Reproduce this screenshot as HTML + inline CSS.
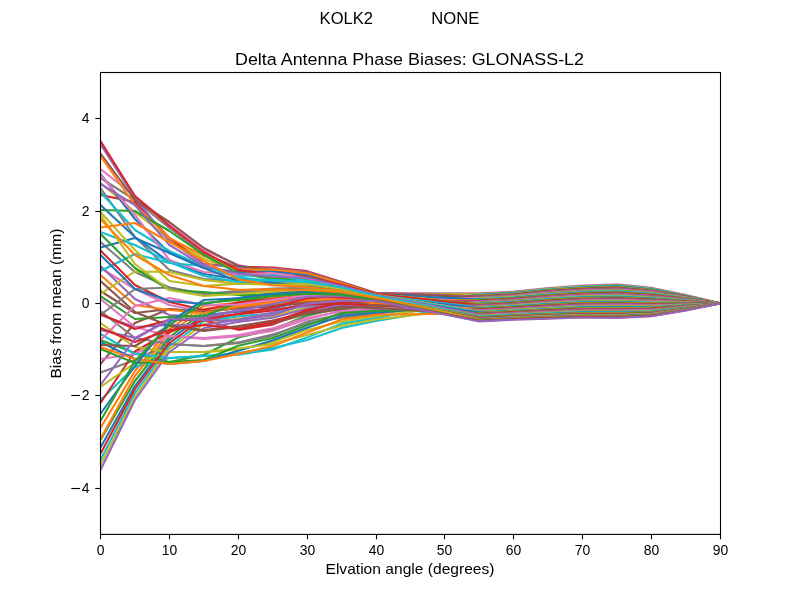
<!DOCTYPE html>
<html><head><meta charset="utf-8"><style>
html,body{margin:0;padding:0;background:#fff;width:800px;height:600px;overflow:hidden}
svg{display:block;will-change:transform}
text{font-family:"Liberation Sans",sans-serif;fill:#000}
</style></head><body>
<svg width="800" height="600" viewBox="0 0 800 600">
<rect width="800" height="600" fill="#fff"/>
<text x="319.6" y="24.3" font-size="16.67" textLength="53.5" lengthAdjust="spacingAndGlyphs">KOLK2</text>
<text x="431.3" y="24.3" font-size="16.67" textLength="48" lengthAdjust="spacingAndGlyphs">NONE</text>
<text x="235" y="64.5" font-size="16.67" textLength="349" lengthAdjust="spacingAndGlyphs">Delta Antenna Phase Biases: GLONASS-L2</text>
<g fill="none" stroke-width="2.08" stroke-linejoin="round" stroke-linecap="butt">
<clipPath id="c"><rect x="100" y="72" width="620" height="462"/></clipPath>
<g clip-path="url(#c)">
<polyline points="100.50,169.00 134.94,196.00 169.39,224.00 203.83,250.00 238.28,265.00 272.72,272.22 307.17,274.17 341.61,283.56 376.06,293.19 410.50,293.26 444.94,293.33 479.39,293.40 513.83,291.60 548.28,288.00 582.72,285.50 617.17,284.30 651.61,287.80 686.06,295.00 720.50,303.45" stroke="#e377c2"/>
<polyline points="100.50,178.00 134.94,200.00 169.39,228.00 203.83,254.00 238.28,267.57 272.72,275.59 307.17,276.14 341.61,284.35 376.06,293.75 410.50,293.78 444.94,293.81 479.39,293.84 513.83,292.04 548.28,288.48 582.72,286.00 617.17,284.83 651.61,288.24 686.06,295.24 720.50,303.45" stroke="#7f7f7f"/>
<polyline points="100.50,183.00 134.94,212.00 169.39,239.00 203.83,259.00 238.28,270.99 272.72,277.61 307.17,279.05 341.61,285.51 376.06,294.69 410.50,294.55 444.94,294.41 479.39,294.28 513.83,292.48 548.28,288.96 582.72,286.50 617.17,285.35 651.61,288.69 686.06,295.48 720.50,303.45" stroke="#bcbd22"/>
<polyline points="100.50,460.00 134.94,393.00 169.39,346.00 203.83,321.00 238.28,316.38 272.72,313.47 307.17,305.07 341.61,304.37 376.06,306.44 410.50,302.53 444.94,298.62 479.39,294.71 513.83,292.92 548.28,289.45 582.72,287.00 617.17,285.88 651.61,289.14 686.06,295.72 720.50,303.45" stroke="#17becf"/>
<polyline points="100.50,447.50 134.94,386.00 169.39,340.00 203.83,315.00 238.28,311.65 272.72,308.17 307.17,300.93 341.61,301.25 376.06,304.06 410.50,301.09 444.94,298.12 479.39,295.15 513.83,293.36 548.28,289.93 582.72,287.50 617.17,286.41 651.61,289.58 686.06,295.96 720.50,303.45" stroke="#1f77b4"/>
<polyline points="100.50,428.00 134.94,371.00 169.39,329.00 203.83,306.00 238.28,302.81 272.72,298.00 307.17,294.66 341.61,296.47 376.06,301.56 410.50,299.57 444.94,297.58 479.39,295.59 513.83,293.80 548.28,290.41 582.72,288.00 617.17,286.93 651.61,290.03 686.06,296.20 720.50,303.45" stroke="#ff7f0e"/>
<polyline points="100.50,440.00 134.94,381.00 169.39,337.00 203.83,312.00 238.28,308.24 272.72,304.69 307.17,298.84 341.61,297.87 376.06,303.13 410.50,300.76 444.94,298.39 479.39,296.03 513.83,294.24 548.28,290.89 582.72,288.50 617.17,287.46 651.61,290.47 686.06,296.44 720.50,303.45" stroke="#2ca02c"/>
<polyline points="100.50,195.00 134.94,202.00 169.39,238.00 203.83,264.00 238.28,266.71 272.72,267.50 307.17,271.15 341.61,282.00 376.06,293.00 410.50,294.15 444.94,295.31 479.39,296.46 513.83,294.67 548.28,291.37 582.72,289.00 617.17,287.99 651.61,290.92 686.06,296.68 720.50,303.45" stroke="#d62728"/>
<polyline points="100.50,144.00 134.94,198.00 169.39,241.00 203.83,264.00 238.28,267.73 272.72,268.44 307.17,271.98 341.61,282.39 376.06,293.38 410.50,294.55 444.94,295.73 479.39,296.90 513.83,295.11 548.28,291.85 582.72,289.50 617.17,288.51 651.61,291.36 686.06,296.92 720.50,303.45" stroke="#9467bd"/>
<polyline points="100.50,153.50 134.94,200.00 169.39,222.00 203.83,248.00 238.28,265.86 272.72,270.33 307.17,272.81 341.61,282.78 376.06,293.56 410.50,294.82 444.94,296.08 479.39,297.34 513.83,295.55 548.28,292.33 582.72,290.00 617.17,289.04 651.61,291.81 686.06,297.16 720.50,303.45" stroke="#8c564b"/>
<polyline points="100.50,268.00 134.94,289.00 169.39,305.00 203.83,312.00 238.28,305.11 272.72,302.68 307.17,299.74 341.61,298.35 376.06,301.87 410.50,300.51 444.94,299.14 479.39,297.77 513.83,295.99 548.28,292.81 582.72,290.50 617.17,289.57 651.61,292.25 686.06,297.41 720.50,303.45" stroke="#e377c2"/>
<polyline points="100.50,372.50 134.94,360.00 169.39,344.00 203.83,346.00 238.28,343.20 272.72,335.82 307.17,321.59 341.61,314.25 376.06,311.71 410.50,307.21 444.94,302.71 479.39,298.21 513.83,296.43 548.28,293.29 582.72,291.00 617.17,290.09 651.61,292.70 686.06,297.65 720.50,303.45" stroke="#7f7f7f"/>
<polyline points="100.50,465.00 134.94,397.00 169.39,349.00 203.83,324.00 238.28,318.44 272.72,315.96 307.17,307.44 341.61,305.00 376.06,307.16 410.50,304.33 444.94,301.49 479.39,298.65 513.83,296.87 548.28,293.77 582.72,291.50 617.17,290.62 651.61,293.15 686.06,297.89 720.50,303.45" stroke="#bcbd22"/>
<polyline points="100.50,400.00 134.94,367.00 169.39,358.00 203.83,356.00 238.28,354.70 272.72,349.40 307.17,337.36 341.61,323.63 376.06,317.88 410.50,311.61 444.94,305.35 479.39,299.09 513.83,297.31 548.28,294.26 582.72,292.00 617.17,291.14 651.61,293.59 686.06,298.13 720.50,303.45" stroke="#17becf"/>
<polyline points="100.50,174.00 134.94,219.00 169.39,253.00 203.83,268.00 238.28,271.85 272.72,271.27 307.17,275.01 341.61,283.95 376.06,294.31 410.50,296.05 444.94,297.79 479.39,299.52 513.83,297.75 548.28,294.74 582.72,292.50 617.17,291.67 651.61,294.04 686.06,298.37 720.50,303.45" stroke="#1f77b4"/>
<polyline points="100.50,439.00 134.94,376.00 169.39,333.00 203.83,309.00 238.28,305.73 272.72,301.21 307.17,297.34 341.61,296.94 376.06,302.81 410.50,301.86 444.94,300.91 479.39,299.96 513.83,298.18 548.28,295.22 582.72,293.00 617.17,292.20 651.61,294.48 686.06,298.61 720.50,303.45" stroke="#ff7f0e"/>
<polyline points="100.50,340.00 134.94,353.00 169.39,362.00 203.83,355.00 238.28,337.56 272.72,329.56 307.17,315.56 341.61,308.00 376.06,304.69 410.50,303.26 444.94,301.83 479.39,300.40 513.83,298.62 548.28,295.70 582.72,293.50 617.17,292.72 651.61,294.92 686.06,298.85 720.50,303.45" stroke="#2ca02c"/>
<polyline points="100.50,403.00 134.94,351.50 169.39,332.00 203.83,320.00 238.28,329.85 272.72,324.62 307.17,311.21 341.61,303.13 376.06,301.25 410.50,301.11 444.94,300.97 479.39,300.84 513.83,299.06 548.28,296.18 582.72,294.00 617.17,293.25 651.61,295.37 686.06,299.09 720.50,303.45" stroke="#d62728"/>
<polyline points="100.50,315.00 134.94,327.00 169.39,325.00 203.83,325.00 238.28,319.84 272.72,312.43 307.17,302.43 341.61,299.38 376.06,302.19 410.50,301.88 444.94,301.58 479.39,301.27 513.83,299.51 548.28,296.66 582.72,294.50 617.17,293.78 651.61,295.81 686.06,299.33 720.50,303.45" stroke="#9467bd"/>
<polyline points="100.50,364.00 134.94,323.00 169.39,309.00 203.83,312.00 238.28,307.96 272.72,305.76 307.17,303.03 341.61,300.00 376.06,302.50 410.50,302.24 444.94,301.98 479.39,301.71 513.83,299.94 548.28,297.15 582.72,295.00 617.17,294.30 651.61,296.26 686.06,299.57 720.50,303.45" stroke="#8c564b"/>
<polyline points="100.50,359.00 134.94,354.00 169.39,336.00 203.83,339.00 238.28,336.20 272.72,330.85 307.17,319.33 341.61,310.50 376.06,309.33 410.50,306.93 444.94,304.54 479.39,302.15 513.83,300.38 548.28,297.63 582.72,295.50 617.17,294.83 651.61,296.71 686.06,299.81 720.50,303.45" stroke="#e377c2"/>
<polyline points="100.50,311.00 134.94,338.00 169.39,344.00 203.83,346.00 238.28,342.40 272.72,334.54 307.17,323.40 341.61,317.63 376.06,313.79 410.50,310.06 444.94,306.32 479.39,302.59 513.83,300.82 548.28,298.11 582.72,296.00 617.17,295.36 651.61,297.15 686.06,300.06 720.50,303.45" stroke="#7f7f7f"/>
<polyline points="100.50,387.00 134.94,363.00 169.39,352.00 203.83,352.00 238.28,349.67 272.72,342.20 307.17,330.10 341.61,321.44 376.06,316.31 410.50,311.88 444.94,307.45 479.39,303.03 513.83,301.26 548.28,298.59 582.72,296.50 617.17,295.88 651.61,297.60 686.06,300.30 720.50,303.45" stroke="#bcbd22"/>
<polyline points="100.50,334.00 134.94,354.00 169.39,358.00 203.83,356.00 238.28,353.06 272.72,347.90 307.17,339.90 341.61,328.00 376.06,321.00 410.50,315.15 444.94,309.31 479.39,303.46 513.83,301.70 548.28,299.07 582.72,297.00 617.17,296.41 651.61,298.04 686.06,300.54 720.50,303.45" stroke="#17becf"/>
<polyline points="100.50,342.00 134.94,359.00 169.39,364.00 203.83,361.00 238.28,350.84 272.72,340.30 307.17,327.68 341.61,315.75 376.06,312.75 410.50,309.80 444.94,306.85 479.39,303.90 513.83,302.14 548.28,299.55 582.72,297.50 617.17,296.94 651.61,298.49 686.06,300.78 720.50,303.45" stroke="#1f77b4"/>
<polyline points="100.50,156.00 134.94,205.00 169.39,238.00 203.83,256.00 238.28,269.28 272.72,269.59 307.17,273.34 341.61,283.17 376.06,293.94 410.50,297.40 444.94,300.87 479.39,304.34 513.83,302.58 548.28,300.03 582.72,298.00 617.17,297.46 651.61,298.93 686.06,301.02 720.50,303.45" stroke="#ff7f0e"/>
<polyline points="100.50,210.00 134.94,211.00 169.39,231.00 203.83,255.00 238.28,273.41 272.72,278.85 307.17,279.82 341.61,285.13 376.06,294.50 410.50,297.93 444.94,301.35 479.39,304.78 513.83,303.02 548.28,300.51 582.72,298.50 617.17,297.99 651.61,299.38 686.06,301.26 720.50,303.45" stroke="#2ca02c"/>
<polyline points="100.50,141.00 134.94,196.00 169.39,226.00 203.83,252.00 238.28,270.14 272.72,274.11 307.17,276.97 341.61,284.73 376.06,294.12 410.50,297.82 444.94,301.51 479.39,305.21 513.83,303.45 548.28,300.99 582.72,299.00 617.17,298.52 651.61,299.82 686.06,301.50 720.50,303.45" stroke="#d62728"/>
<polyline points="100.50,266.00 134.94,299.00 169.39,315.00 203.83,317.00 238.28,310.26 272.72,309.64 307.17,306.33 341.61,305.63 376.06,304.37 410.50,304.80 444.94,305.22 479.39,305.65 513.83,303.89 548.28,301.47 582.72,299.50 617.17,299.04 651.61,300.27 686.06,301.74 720.50,303.45" stroke="#9467bd"/>
<polyline points="100.50,291.00 134.94,313.00 169.39,309.00 203.83,312.00 238.28,307.69 272.72,306.83 307.17,301.83 341.61,301.87 376.06,303.75 410.50,304.53 444.94,305.31 479.39,306.09 513.83,304.33 548.28,301.96 582.72,300.00 617.17,299.57 651.61,300.72 686.06,301.98 720.50,303.45" stroke="#8c564b"/>
<polyline points="100.50,299.00 134.94,327.00 169.39,336.00 203.83,338.00 238.28,334.99 272.72,328.27 307.17,317.67 341.61,311.75 376.06,310.05 410.50,308.87 444.94,307.70 479.39,306.53 513.83,304.77 548.28,302.44 582.72,300.50 617.17,300.10 651.61,301.16 686.06,302.22 720.50,303.45" stroke="#e377c2"/>
<polyline points="100.50,188.00 134.94,237.00 169.39,270.00 203.83,279.00 238.28,281.00 272.72,282.16 307.17,283.67 341.61,288.03 376.06,296.00 410.50,299.65 444.94,303.31 479.39,306.96 513.83,305.21 548.28,302.92 582.72,301.00 617.17,300.62 651.61,301.60 686.06,302.46 720.50,303.45" stroke="#7f7f7f"/>
<polyline points="100.50,323.00 134.94,347.00 169.39,352.00 203.83,352.00 238.28,348.50 272.72,344.10 307.17,334.97 341.61,325.81 376.06,319.44 410.50,315.43 444.94,311.41 479.39,307.40 513.83,305.65 548.28,303.40 582.72,301.50 617.17,301.15 651.61,302.05 686.06,302.70 720.50,303.45" stroke="#bcbd22"/>
<polyline points="100.50,192.00 134.94,230.00 169.39,251.00 203.83,266.00 238.28,276.05 272.72,274.45 307.17,280.89 341.61,287.09 376.06,295.25 410.50,299.45 444.94,303.64 479.39,307.84 513.83,306.09 548.28,303.88 582.72,302.00 617.17,301.68 651.61,302.49 686.06,302.94 720.50,303.45" stroke="#17becf"/>
<polyline points="100.50,205.00 134.94,237.00 169.39,262.00 203.83,274.00 238.28,279.22 272.72,282.60 307.17,285.36 341.61,289.44 376.06,296.50 410.50,300.42 444.94,304.35 479.39,308.28 513.83,306.53 548.28,304.36 582.72,302.50 617.17,302.20 651.61,302.94 686.06,303.18 720.50,303.45" stroke="#1f77b4"/>
<polyline points="100.50,275.00 134.94,305.00 169.39,310.00 203.83,313.00 238.28,306.71 272.72,303.35 307.17,300.34 341.61,298.81 376.06,303.44 410.50,305.20 444.94,306.96 479.39,308.71 513.83,306.97 548.28,304.84 582.72,303.00 617.17,302.73 651.61,303.39 686.06,303.42 720.50,303.45" stroke="#ff7f0e"/>
<polyline points="100.50,349.00 134.94,363.00 169.39,362.00 203.83,360.00 238.28,345.75 272.72,338.00 307.17,325.25 341.61,313.00 376.06,310.77 410.50,310.23 444.94,309.69 479.39,309.15 513.83,307.41 548.28,305.33 582.72,303.50 617.17,303.26 651.61,303.83 686.06,303.66 720.50,303.45" stroke="#2ca02c"/>
<polyline points="100.50,453.75 134.94,389.00 169.39,343.00 203.83,318.00 238.28,314.34 272.72,310.59 307.17,304.22 341.61,303.75 376.06,305.72 410.50,307.01 444.94,308.30 479.39,309.59 513.83,307.85 548.28,305.81 582.72,304.00 617.17,303.78 651.61,304.28 686.06,303.90 720.50,303.45" stroke="#d62728"/>
<polyline points="100.50,470.00 134.94,400.00 169.39,352.00 203.83,328.00 238.28,321.95 272.72,317.80 307.17,308.84 341.61,306.25 376.06,308.60 410.50,309.08 444.94,309.55 479.39,310.02 513.83,308.29 548.28,306.29 582.72,304.50 617.17,304.31 651.61,304.72 686.06,304.14 720.50,303.45" stroke="#9467bd"/>
<polyline points="100.50,345.00 134.94,346.00 169.39,325.60 203.83,331.00 238.28,327.03 272.72,323.42 307.17,313.87 341.61,309.25 376.06,305.00 410.50,306.82 444.94,308.64 479.39,310.46 513.83,308.72 548.28,306.77 582.72,305.00 617.17,304.84 651.61,305.17 686.06,304.38 720.50,303.45" stroke="#8c564b"/>
<polyline points="100.50,175.00 134.94,215.00 169.39,260.00 203.83,272.00 238.28,274.46 272.72,273.16 307.17,278.33 341.61,286.30 376.06,295.63 410.50,300.72 444.94,305.81 479.39,310.90 513.83,309.16 548.28,307.25 582.72,305.50 617.17,305.36 651.61,305.61 686.06,304.62 720.50,303.45" stroke="#e377c2"/>
<polyline points="100.50,242.00 134.94,272.00 169.39,287.50 203.83,294.00 238.28,292.35 272.72,290.30 307.17,288.52 341.61,290.37 376.06,296.75 410.50,301.61 444.94,306.48 479.39,311.34 513.83,309.60 548.28,307.73 582.72,306.00 617.17,305.89 651.61,306.06 686.06,304.86 720.50,303.45" stroke="#7f7f7f"/>
<polyline points="100.50,294.00 134.94,271.50 169.39,272.00 203.83,280.00 238.28,283.90 272.72,283.87 307.17,282.75 341.61,286.69 376.06,294.88 410.50,300.51 444.94,306.14 479.39,311.77 513.83,310.04 548.28,308.21 582.72,306.50 617.17,306.42 651.61,306.50 686.06,305.11 720.50,303.45" stroke="#bcbd22"/>
<polyline points="100.50,271.00 134.94,254.00 169.39,263.00 203.83,266.00 238.28,277.64 272.72,280.53 307.17,282.13 341.61,288.50 376.06,295.44 410.50,301.03 444.94,306.62 479.39,312.21 513.83,310.48 548.28,308.69 582.72,307.00 617.17,306.94 651.61,306.95 686.06,305.35 720.50,303.45" stroke="#17becf"/>
<polyline points="100.50,247.50 134.94,238.00 169.39,253.00 203.83,268.00 238.28,281.19 272.72,283.04 307.17,285.98 341.61,289.91 376.06,297.00 410.50,302.22 444.94,307.43 479.39,312.65 513.83,310.92 548.28,309.17 582.72,307.50 617.17,307.47 651.61,307.39 686.06,305.59 720.50,303.45" stroke="#1f77b4"/>
<polyline points="100.50,347.00 134.94,359.00 169.39,364.00 203.83,361.00 238.28,353.88 272.72,346.00 307.17,332.43 341.61,319.50 376.06,314.83 410.50,314.25 444.94,313.67 479.39,313.09 513.83,311.36 548.28,309.66 582.72,308.00 617.17,308.00 651.61,307.84 686.06,305.83 720.50,303.45" stroke="#ff7f0e"/>
<polyline points="100.50,296.00 134.94,319.00 169.39,317.00 203.83,316.00 238.28,302.53 272.72,295.60 307.17,291.66 341.61,293.19 376.06,298.25 410.50,303.34 444.94,308.43 479.39,313.52 513.83,311.80 548.28,310.14 582.72,308.50 617.17,308.52 651.61,308.29 686.06,306.07 720.50,303.45" stroke="#2ca02c"/>
<polyline points="100.50,250.50 134.94,285.00 169.39,302.00 203.83,310.00 238.28,302.25 272.72,299.07 307.17,296.15 341.61,297.41 376.06,299.00 410.50,303.99 444.94,308.97 479.39,313.96 513.83,312.24 548.28,310.62 582.72,309.00 617.17,309.05 651.61,308.73 686.06,306.31 720.50,303.45" stroke="#d62728"/>
<polyline points="100.50,184.00 134.94,205.00 169.39,245.00 203.83,266.00 238.28,273.57 272.72,276.78 307.17,277.80 341.61,285.91 376.06,295.06 410.50,301.51 444.94,307.95 479.39,314.40 513.83,312.67 548.28,311.10 582.72,309.50 617.17,309.57 651.61,309.17 686.06,306.55 720.50,303.45" stroke="#9467bd"/>
<polyline points="100.50,281.00 134.94,312.00 169.39,326.00 203.83,330.00 238.28,326.15 272.72,320.60 307.17,312.61 341.61,306.88 376.06,307.88 410.50,310.20 444.94,312.52 479.39,314.84 513.83,313.11 548.28,311.58 582.72,310.00 617.17,310.10 651.61,309.62 686.06,306.79 720.50,303.45" stroke="#8c564b"/>
<polyline points="100.50,340.00 134.94,306.00 169.39,298.00 203.83,305.00 238.28,304.48 272.72,299.74 307.17,295.40 341.61,295.06 376.06,299.75 410.50,304.92 444.94,310.10 479.39,315.27 513.83,313.55 548.28,312.06 582.72,310.50 617.17,310.63 651.61,310.06 686.06,307.03 720.50,303.45" stroke="#e377c2"/>
<polyline points="100.50,315.00 134.94,289.00 169.39,287.50 203.83,294.00 238.28,290.70 272.72,288.50 307.17,287.78 341.61,290.84 376.06,297.25 410.50,303.40 444.94,309.56 479.39,315.71 513.83,313.99 548.28,312.54 582.72,311.00 617.17,311.15 651.61,310.51 686.06,307.27 720.50,303.45" stroke="#7f7f7f"/>
<polyline points="100.50,212.00 134.94,250.00 169.39,281.00 203.83,286.00 238.28,283.66 272.72,284.71 307.17,284.44 341.61,288.97 376.06,296.25 410.50,302.88 444.94,309.51 479.39,316.15 513.83,314.43 548.28,313.03 582.72,311.50 617.17,311.68 651.61,310.96 686.06,307.51 720.50,303.45" stroke="#bcbd22"/>
<polyline points="100.50,232.00 134.94,245.00 169.39,262.00 203.83,276.00 238.28,282.07 272.72,280.09 307.17,281.51 341.61,287.56 376.06,295.81 410.50,302.74 444.94,309.66 479.39,316.59 513.83,314.87 548.28,313.51 582.72,312.00 617.17,312.21 651.61,311.40 686.06,307.75 720.50,303.45" stroke="#17becf"/>
<polyline points="100.50,255.00 134.94,289.00 169.39,301.00 203.83,304.00 238.28,298.00 272.72,292.90 307.17,290.92 341.61,292.72 376.06,298.75 410.50,304.84 444.94,310.93 479.39,317.03 513.83,315.31 548.28,313.99 582.72,312.50 617.17,312.73 651.61,311.85 686.06,308.00 720.50,303.45" stroke="#1f77b4"/>
<polyline points="100.50,227.50 134.94,223.00 169.39,242.00 203.83,261.00 238.28,279.41 272.72,285.20 307.17,287.03 341.61,291.31 376.06,297.50 410.50,304.15 444.94,310.81 479.39,317.46 513.83,315.75 548.28,314.47 582.72,313.00 617.17,313.26 651.61,312.29 686.06,308.24 720.50,303.45" stroke="#ff7f0e"/>
<polyline points="100.50,234.00 134.94,268.00 169.39,290.00 203.83,292.00 238.28,294.95 272.72,295.10 307.17,292.41 341.61,293.66 376.06,298.50 410.50,304.97 444.94,311.43 479.39,317.90 513.83,316.19 548.28,314.95 582.72,313.50 617.17,313.79 651.61,312.74 686.06,308.48 720.50,303.45" stroke="#2ca02c"/>
<polyline points="100.50,314.00 134.94,329.00 169.39,320.00 203.83,320.00 238.28,313.69 272.72,307.50 307.17,298.24 341.61,295.53 376.06,299.25 410.50,305.61 444.94,311.98 479.39,318.34 513.83,316.63 548.28,315.43 582.72,314.00 617.17,314.31 651.61,313.18 686.06,308.72 720.50,303.45" stroke="#d62728"/>
<polyline points="100.50,330.00 134.94,338.00 169.39,320.00 203.83,318.00 238.28,310.66 272.72,304.02 307.17,296.75 341.61,296.00 376.06,299.50 410.50,305.93 444.94,312.35 479.39,318.78 513.83,317.07 548.28,315.91 582.72,314.50 617.17,314.84 651.61,313.63 686.06,308.96 720.50,303.45" stroke="#9467bd"/>
<polyline points="100.50,215.00 134.94,264.00 169.39,290.00 203.83,296.00 238.28,294.00 272.72,291.60 307.17,289.42 341.61,291.78 376.06,297.75 410.50,304.90 444.94,312.06 479.39,319.21 513.83,317.51 548.28,316.39 582.72,315.00 617.17,315.37 651.61,314.07 686.06,309.20 720.50,303.45" stroke="#bcbd22"/>
<polyline points="100.50,413.75 134.94,366.00 169.39,322.00 203.83,300.00 238.28,298.25 272.72,294.20 307.17,293.16 341.61,294.12 376.06,300.31 410.50,306.76 444.94,313.21 479.39,319.65 513.83,317.94 548.28,316.87 582.72,315.50 617.17,315.89 651.61,314.52 686.06,309.44 720.50,303.45" stroke="#1f77b4"/>
<polyline points="100.50,219.00 134.94,255.00 169.39,275.00 203.83,286.00 238.28,289.75 272.72,289.40 307.17,290.02 341.61,292.25 376.06,298.00 410.50,305.36 444.94,312.72 479.39,320.09 513.83,318.38 548.28,317.36 582.72,316.00 617.17,316.42 651.61,314.97 686.06,309.68 720.50,303.45" stroke="#ff7f0e"/>
<polyline points="100.50,421.00 134.94,361.00 169.39,325.00 203.83,303.00 238.28,299.90 272.72,296.13 307.17,293.76 341.61,294.60 376.06,300.00 410.50,306.84 444.94,313.68 479.39,320.53 513.83,318.82 548.28,317.84 582.72,316.50 617.17,316.95 651.61,315.41 686.06,309.92 720.50,303.45" stroke="#2ca02c"/>
<polyline points="100.50,328.00 134.94,342.00 169.39,330.00 203.83,325.00 238.28,328.96 272.72,322.21 307.17,310.10 341.61,302.50 376.06,300.62 410.50,307.40 444.94,314.18 479.39,320.96 513.83,319.26 548.28,318.32 582.72,317.00 617.17,317.47 651.61,315.86 686.06,310.16 720.50,303.45" stroke="#d62728"/>
<polyline points="100.50,385.00 134.94,339.00 169.39,319.00 203.83,320.00 238.28,320.54 272.72,314.91 307.17,303.63 341.61,300.62 376.06,300.94 410.50,307.76 444.94,314.58 479.39,321.40 513.83,319.70 548.28,318.80 582.72,317.50 617.17,318.00 651.61,316.30 686.06,310.40 720.50,303.45" stroke="#9467bd"/>
</g></g>
<rect x="100.5" y="72.5" width="620" height="461.9" fill="none" stroke="#000" stroke-width="1.11"/>
<g stroke="#000" stroke-width="1.11">
<line x1="100.50" y1="534.4" x2="100.50" y2="539.3"/>
<line x1="169.50" y1="534.4" x2="169.50" y2="539.3"/>
<line x1="238.50" y1="534.4" x2="238.50" y2="539.3"/>
<line x1="307.50" y1="534.4" x2="307.50" y2="539.3"/>
<line x1="376.50" y1="534.4" x2="376.50" y2="539.3"/>
<line x1="444.50" y1="534.4" x2="444.50" y2="539.3"/>
<line x1="513.50" y1="534.4" x2="513.50" y2="539.3"/>
<line x1="582.50" y1="534.4" x2="582.50" y2="539.3"/>
<line x1="651.50" y1="534.4" x2="651.50" y2="539.3"/>
<line x1="720.50" y1="534.4" x2="720.50" y2="539.3"/>
<line x1="95.3" y1="118.50" x2="100.5" y2="118.50"/>
<line x1="95.3" y1="211.50" x2="100.5" y2="211.50"/>
<line x1="95.3" y1="303.50" x2="100.5" y2="303.50"/>
<line x1="95.3" y1="395.50" x2="100.5" y2="395.50"/>
<line x1="71.3" y1="395.50" x2="80" y2="395.50"/>
<line x1="95.3" y1="488.50" x2="100.5" y2="488.50"/>
<line x1="71.3" y1="488.50" x2="80" y2="488.50"/>
</g>
<g font-size="13.9">
<text x="100.50" y="555.0" text-anchor="middle">0</text>
<text x="169.50" y="555.0" text-anchor="middle">10</text>
<text x="238.50" y="555.0" text-anchor="middle">20</text>
<text x="307.50" y="555.0" text-anchor="middle">30</text>
<text x="376.50" y="555.0" text-anchor="middle">40</text>
<text x="444.50" y="555.0" text-anchor="middle">50</text>
<text x="513.50" y="555.0" text-anchor="middle">60</text>
<text x="582.50" y="555.0" text-anchor="middle">70</text>
<text x="651.50" y="555.0" text-anchor="middle">80</text>
<text x="720.50" y="555.0" text-anchor="middle">90</text>
<text x="89.5" y="122.90" text-anchor="end">4</text>
<text x="89.5" y="215.90" text-anchor="end">2</text>
<text x="89.5" y="307.90" text-anchor="end">0</text>
<text x="89.5" y="399.90" text-anchor="end">2</text>
<text x="89.5" y="492.90" text-anchor="end">4</text>
</g>
<text x="325.5" y="573.5" font-size="13.9" textLength="169" lengthAdjust="spacingAndGlyphs">Elvation angle (degrees)</text>
<text transform="translate(61.2,378.6) rotate(-90)" font-size="13.9" textLength="150" lengthAdjust="spacingAndGlyphs">Bias from mean (mm)</text>
</svg>
</body></html>
